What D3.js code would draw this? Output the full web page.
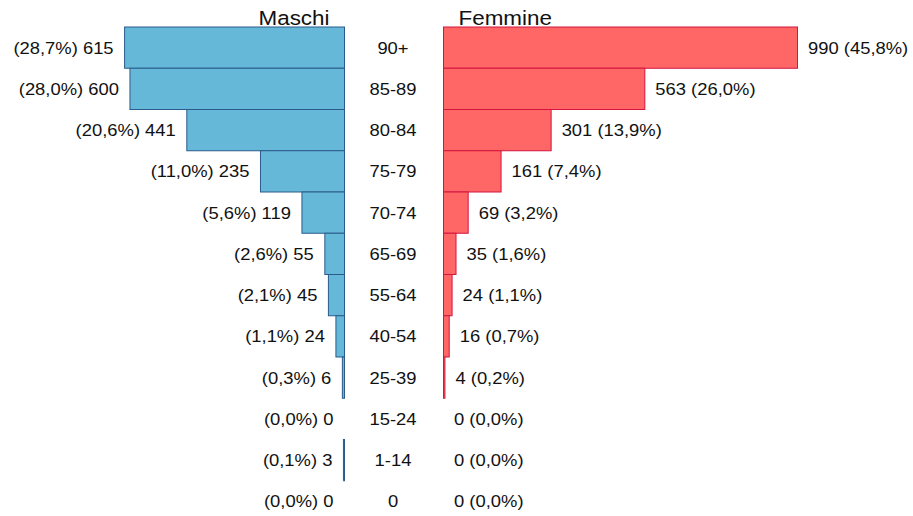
<!DOCTYPE html>
<html>
<head>
<meta charset="utf-8">
<script src="https://d3js.org/d3.v7.min.js"></script>
<style>
  body { margin: 0; background: #fff; }
  text { font-family: "Liberation Sans", Arial, sans-serif; fill: #111; }
</style>
</head>
<body>
<div id="chart"></div>
<script>
// age classes, from oldest (top) to youngest (bottom)
var ageClasses = ["90+", "85-89", "80-84", "75-79", "70-74", "65-69", "55-64", "40-54", "25-39", "15-24", "1-14", "0"];
var maschi  = [615, 600, 441, 235, 119, 55, 45, 24, 6, 0, 3, 0];
var femmine = [990, 563, 301, 161, 69, 35, 24, 16, 4, 0, 0, 0];
var seriesNames = ["Maschi", "Femmine"];

var W = 913, H = 516;
var leftEdge = 344.5, rightEdge = 443.5, midX = 393;
var stretch = 1.15;

var svg = d3.select("#chart").append("svg")
    .attr("width", W).attr("height", H);

var y = d3.scaleBand()
    .domain(ageClasses)
    .range([27, 27 + 41.25 * ageClasses.length])
    .padding(0);

var maxV = d3.max(maschi.concat(femmine));
var x = d3.scaleLinear().domain([0, maxV]).range([0, 354]);

var it = d3.formatLocale({decimal: ",", thousands: ".", grouping: [3], currency: ["", "€"]});
var pct = it.format(".1f");
var totM = d3.sum(maschi), totF = d3.sum(femmine);

var rows = ageClasses.map(function(a, i) {
  return {age: a, m: maschi[i], f: femmine[i]};
});

// left bars (Maschi)
svg.append("g").selectAll("rect")
  .data(rows).enter().append("rect")
    .attr("x", function(d) { return leftEdge - x(d.m); })
    .attr("y", function(d) { return y(d.age); })
    .attr("width", function(d) { return x(d.m); })
    .attr("height", y.bandwidth())
    .attr("fill", "#66b8d8")
    .attr("stroke", "#2a5b8c")
    .attr("stroke-width", 1);

// right bars (Femmine)
svg.append("g").selectAll("rect")
  .data(rows).enter().append("rect")
    .attr("x", rightEdge)
    .attr("y", function(d) { return y(d.age); })
    .attr("width", function(d) { return x(d.f); })
    .attr("height", y.bandwidth())
    .attr("fill", "#ff6666")
    .attr("stroke", "#d3153f")
    .attr("stroke-width", 1);

function place(xx, yy) {
  return "translate(" + xx + "," + yy + ") scale(" + stretch + ",1)";
}
function cy(d) { return y(d.age) + y.bandwidth() / 2 + 6; }

// left value labels
svg.append("g").selectAll("text")
  .data(rows).enter().append("text")
    .attr("transform", function(d) { return place(leftEdge - x(d.m) - 11, cy(d)); })
    .attr("text-anchor", "end")
    .style("font-size", "16px")
    .text(function(d) { return "(" + pct(d.m * 100 / totM) + "%) " + d.m; });

// right value labels
svg.append("g").selectAll("text")
  .data(rows).enter().append("text")
    .attr("transform", function(d) { return place(rightEdge + x(d.f) + 10.5, cy(d)); })
    .attr("text-anchor", "start")
    .style("font-size", "16px")
    .text(function(d) { return d.f + " (" + pct(d.f * 100 / totF) + "%)"; });

// age class labels
svg.append("g").selectAll("text")
  .data(rows).enter().append("text")
    .attr("transform", function(d) { return place(midX, cy(d)); })
    .attr("text-anchor", "middle")
    .style("font-size", "16px")
    .text(function(d) { return d.age; });

// titles
svg.append("text")
    .attr("transform", place(leftEdge - 15, 25))
    .attr("text-anchor", "end")
    .style("font-size", "19.5px")
    .text(seriesNames[0]);
svg.append("text")
    .attr("transform", place(rightEdge + 15, 25))
    .attr("text-anchor", "start")
    .style("font-size", "19.5px")
    .text(seriesNames[1]);
</script>
</body>
</html>
